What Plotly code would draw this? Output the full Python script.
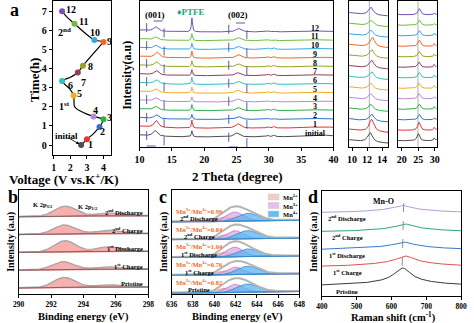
import numpy as np
import plotly.graph_objects as go

W, H = 474, 323
SERIF = "Liberation Serif"

# ---------------- data ----------------
# (a) charge/discharge profile: voltage (V) vs time (h)
curve_v = [2.65, 3.0, 3.4, 3.76, 4.0, 3.4, 3.0, 2.6, 2.35, 2.24, 2.22, 2.2, 1.95, 1.5, 2.0, 2.45,
           2.76, 3.2, 3.6, 3.9, 4.0, 3.45, 2.9, 2.25, 1.8, 1.5]
curve_t = [0.0, 0.3, 0.6, 0.95, 1.35, 1.5, 1.62, 1.78, 1.92, 2.04, 2.3, 2.6, 2.95, 3.35, 3.55, 3.8,
           4.15, 4.6, 5.0, 5.3, 5.4, 5.5, 5.85, 6.35, 6.7, 7.0]
point_names = ["initial", "1", "2", "3", "4", "5", "6", "7", "8", "9", "10", "11", "12"]
point_v = [2.65, 3.0, 3.76, 4.0, 3.4, 2.2, 1.5, 2.45, 2.76, 4.0, 3.45, 2.25, 1.5]
point_t = [0.0, 0.3, 0.95, 1.35, 1.5, 2.6, 3.35, 3.8, 4.15, 5.4, 5.5, 6.35, 7.0]

# (a) in-situ XRD: peak parameters of each pattern
xrd_colors = ["#4d4d4d", "#e8332e", "#2f73c9", "#2fae4e", "#b38ad8", "#f2ad1f", "#2cc0c0",
              "#8e3f62", "#98a31e", "#f5661e", "#34a8e2", "#6cbf3c", "#7651b8"]
p001_pos = [12.4, 12.6, 12.6, 12.5, 12.5, 12.5, 12.6, 12.6, 12.6, 12.7, 12.5, 12.5, 12.5]
p001_h = [5.5, 7.0, 4.0, 3.5, 3.5, 3.5, 4.0, 4.5, 4.5, 5.5, 3.5, 3.0, 4.5]
ptfe_h = [6.0, 8.0, 5.0, 6.0, 5.0, 6.0, 7.0, 6.0, 6.0, 7.0, 6.0, 7.0, 14.0]
p002_pos = [25.0, 25.2, 25.3, 25.3, 25.2, 25.2, 25.3, 25.2, 25.3, 25.3, 25.3, 25.3, 25.3]
p002_h = [4.0, 4.5, 3.0, 3.0, 3.0, 3.0, 3.0, 3.0, 3.0, 3.5, 3.0, 3.0, 3.5]
minor_h = [1.5, 1.5, 1.0, 1.5, 1.0, 1.5, 1.5, 1.5, 1.5, 1.5, 1.5, 1.0, 1.0]
hump_h = [2.0, 1.5, 1.0, 1.0, 1.0, 1.0, 1.0, 1.0, 1.0, 1.0, 1.0, 1.0, 1.0]

# (b) K 2p XPS
b_names = ["Pristine", "1<sup>st</sup> Charge", "1<sup>st</sup> Discharge",
           "2<sup>nd</sup> Charge", "2<sup>nd</sup> Discharge"]
k32_pos = [292.8, 292.7, 292.85, 292.8, 292.85]
k32_h = [10.0, 8.0, 11.0, 9.0, 10.0]
k12_h = [2.0, 2.0, 4.5, 3.0, 2.5]

# (c) Mn 2p XPS
c_names = b_names
mn_ratio = [0.82, 0.76, 1.04, 0.84, 0.99]     # Mn3+/Mn4+
mn2_h = [4.5, 4.0, 5.0, 4.5, 4.5]
mn4_h = [8.0, 8.0, 7.5, 8.0, 7.5]

# (d) Raman
d_names = b_names
d_colors = ["#3a3a3a", "#e05050", "#3a78c8", "#30a878", "#b89ad8"]
d_base = [10.0, 29.0, 46.0, 64.0, 83.0]
d_center = [632, 640, 635, 640, 632]
d_sharp = [13.0, 6.0, 4.0, 4.5, 4.0]
d_broad = [5.0, 5.0, 4.0, 3.5, 3.5]


# ---------------- helpers ----------------
def lor(x, c, h, w):
    return h / (1 + ((x - c) / w) ** 2)


def gau(x, c, h, s):
    return h * np.exp(-0.5 * ((x - c) / s) ** 2)


def sig(x, c, w):
    return 1 / (1 + np.exp(-(x - c) / w))


def xrd_curve(k, x):
    return (lor(x, p001_pos[k], p001_h[k], 0.38) + lor(x, 18.1, ptfe_h[k], 0.1)
            + lor(x, p002_pos[k], p002_h[k], 0.45) + lor(x, 29.8, minor_h[k], 0.2)
            + lor(x, 30.8, minor_h[k], 0.2) + lor(x, 38.0, hump_h[k], 2.5)
            + 2.0 * np.exp(-(x - 10) / 3))


def fx(p):
    return p / W


def fy(p):
    return 1 - p / H


fig = go.Figure()

# ---------------- (a) profile ----------------
fig.add_trace(go.Scatter(x=curve_v, y=curve_t, mode="lines", line=dict(color="black", width=1.2,
                         shape="spline", smoothing=0.6), xaxis="x", yaxis="y", hoverinfo="skip"))
fig.add_trace(go.Scatter(x=point_v, y=point_t, mode="markers",
                         marker=dict(color=xrd_colors, size=6), xaxis="x", yaxis="y"))

# ---------------- (a) XRD ----------------
th_main = np.linspace(10, 40, 1500)
th_in1 = np.linspace(9.6, 14.8, 400)
th_in2 = np.linspace(18.8, 30.6, 600)
for k in range(len(point_names)):
    c = xrd_colors[k]
    fig.add_trace(go.Scatter(x=th_main, y=10 + 8.75 * k + xrd_curve(k, th_main), mode="lines",
                             line=dict(color=c, width=1), xaxis="x2", yaxis="y2"))
    fig.add_trace(go.Scatter(x=th_in1, y=3 + 10.6 * k + 1.8 * xrd_curve(k, th_in1), mode="lines",
                             line=dict(color=c, width=1), xaxis="x3", yaxis="y3"))
    fig.add_trace(go.Scatter(x=th_in2, y=6 + 10.5 * k + 1.8 * xrd_curve(k, th_in2), mode="lines",
                             line=dict(color=c, width=1), xaxis="x4", yaxis="y4"))

# ---------------- (b) K 2p ----------------
be_b = np.linspace(290, 298, 500)
for k in range(5):
    base = 6 + 17.8 * k
    bg = base + 1.0 * sig(be_b, 293.0, 0.4)
    p1 = gau(be_b, k32_pos[k], k32_h[k], 0.65)
    p2 = gau(be_b, 295.6, k12_h[k], 0.7)
    for p in (p1, p2):
        fig.add_trace(go.Scatter(x=np.concatenate([be_b, be_b[::-1]]),
                                 y=np.concatenate([bg + p, bg[::-1]]), fill="toself",
                                 fillcolor="rgba(243,150,150,0.75)", mode="lines",
                                 line=dict(color="#e07a7a", width=0.6), xaxis="x5", yaxis="y5"))
    fig.add_trace(go.Scatter(x=be_b, y=bg + p1 + p2 + 0.4, mode="lines",
                             line=dict(color="#a8a8a8", width=1.2), xaxis="x5", yaxis="y5"))
    fig.add_trace(go.Scatter(x=be_b, y=bg, mode="lines", line=dict(color="#606060", width=0.8),
                             xaxis="x5", yaxis="y5"))

# ---------------- (c) Mn 2p ----------------
be_c = np.linspace(636, 648, 600)
for k in range(5):
    base = 1 + 17.8 * k
    bg = base + 1.5 * sig(be_c, 642.5, 0.8)
    m4 = gau(be_c, 643.1, mn4_h[k], 1.0)
    m3 = gau(be_c, 641.9, mn_ratio[k] * mn4_h[k] * 1.0 / 0.8, 0.8)
    m2 = gau(be_c, 640.9, mn2_h[k], 0.7)
    for p, fc, lc in ((m2, "rgba(240,200,184,0.8)", "#e08a80"),
                      (m3, "rgba(222,170,226,0.75)", "#b070c0"),
                      (m4, "rgba(90,180,240,0.75)", "#2a80c8")):
        fig.add_trace(go.Scatter(x=np.concatenate([be_c, be_c[::-1]]),
                                 y=np.concatenate([bg + p, bg[::-1]]), fill="toself",
                                 fillcolor=fc, mode="lines", line=dict(color=lc, width=0.7),
                                 xaxis="x6", yaxis="y6"))
    fig.add_trace(go.Scatter(x=be_c, y=bg + m2 + m3 + m4 + 0.5, mode="lines",
                             line=dict(color="#b5b5b5", width=2), xaxis="x6", yaxis="y6"))
    fig.add_trace(go.Scatter(x=be_c, y=bg, mode="lines", line=dict(color="#3090d0", width=0.9),
                             xaxis="x6", yaxis="y6"))

# ---------------- (d) Raman ----------------
rs = np.linspace(400, 800, 600)
for k in range(5):
    y = d_base[k] + lor(rs, d_center[k], d_sharp[k], 28) + lor(rs, d_center[k], d_broad[k], 110)
    fig.add_trace(go.Scatter(x=rs, y=y, mode="lines", line=dict(color=d_colors[k], width=1),
                             xaxis="x7", yaxis="y7"))

# ---------------- axes ----------------
tf = dict(family=SERIF, size=10, color="black", weight="bold")
tfs = dict(family=SERIF, size=7.5, color="black", weight="bold")


def xax(dom, rng, ticks, anchor, font):
    return dict(domain=[fx(dom[0]), fx(dom[1])], range=rng, tickvals=ticks, anchor=anchor,
                showline=True, linecolor="black", linewidth=1.3, mirror=True, ticks="outside",
                ticklen=3, tickwidth=1, tickcolor="black", showgrid=False, zeroline=False,
                tickfont=font)


def yax(dom, rng, anchor, ticks=None):
    d = dict(domain=[fy(dom[1]), fy(dom[0])], range=rng, anchor=anchor, showline=True,
             linecolor="black", linewidth=1.3, mirror=True, showgrid=False, zeroline=False)
    if ticks is None:
        d.update(showticklabels=False, ticks="")
    else:
        d.update(tickvals=ticks, ticks="outside", ticklen=3, tickcolor="black", tickfont=tf)
    return d


fig.update_layout(
    width=W, height=H, margin=dict(l=0, r=0, t=0, b=0), showlegend=False,
    plot_bgcolor="white", paper_bgcolor="white",
    xaxis=xax((48, 108), [0.94, 4.47], [1, 2, 3, 4], "y", tf),
    yaxis=yax((1, 155), [-0.52, 7.54], "x", list(range(8))),
    xaxis2=xax((137, 336), [10, 40], [10, 15, 20, 25, 30, 35, 40], "y2", tf),
    yaxis2=yax((1, 147), [0, 146], "x2"),
    xaxis3=xax((352, 392), [9.6, 14.8], [10, 12, 14], "y3", tf),
    yaxis3=yax((1, 147), [0, 146], "x3"),
    xaxis4=xax((402, 442), [18.8, 30.6], [20, 25, 30], "y4", tf),
    yaxis4=yax((1, 147), [0, 146], "x4"),
    xaxis5=xax((13, 146), [290, 298], [290, 292, 294, 296, 298], "y5", tfs),
    yaxis5=yax((190, 294), [0, 104], "x5"),
    xaxis6=xax((170, 301), [636, 648], [636, 638, 640, 642, 644, 646, 648], "y6", tfs),
    yaxis6=yax((190, 294), [0, 104], "x6"),
    xaxis7=xax((324, 467), [400, 800], [400, 500, 600, 700, 800], "y7", tfs),
    yaxis7=yax((191, 296), [0, 105], "x7"),
)

ann = []


def text_px(x, y, s, size, angle=0, color="black", xanchor="center"):
    ann.append(dict(x=fx(x), y=fy(y), xref="paper", yref="paper", text=s, showarrow=False,
                    textangle=angle, xanchor=xanchor, yanchor="middle",
                    font=dict(family=SERIF, size=size, color=color, weight="bold")))


def text_ax(ax, x, y, s, size, color="black", xanchor="center"):
    ann.append(dict(x=x, y=y, xref="x" + ax, yref="y" + ax, text=s, showarrow=False,
                    xanchor=xanchor, yanchor="middle",
                    font=dict(family=SERIF, size=size, color=color, weight="bold")))


# panel letters
text_px(9, 10, "a", 18)
text_px(7, 197, "b", 18)
text_px(161, 197, "c", 18)
text_px(315, 197, "d", 18)

# (a) titles and labels
text_px(30, 80, "Time(h)", 13, angle=-90)
text_px(60, 179, "Voltage (V vs.K<sup>+</sup>/K)", 13)
text_px(124, 75, "Intensity(a.u)", 12, angle=-90)
text_px(238, 176, "2 Theta (degree)", 13)

num_pos = [(3.24, 0.05), (3.96, 0.73), (4.35, 1.45), (3.5, 1.83), (2.57, 2.7), (1.98, 3.14),
           (2.82, 3.26), (3.22, 4.1), (4.35, 5.4), (3.5, 5.9), (2.78, 6.46), (2.04, 7.1)]
for name, (vx, ty) in zip(point_names[1:], num_pos):
    text_ax("", vx, ty, name, 10)
text_ax("", 1.65, 2.04, "1<sup>st</sup>", 10)
text_ax("", 1.65, 5.93, "2<sup>nd</sup>", 10)
ann.append(dict(x=2.55, y=0.05, xref="x", yref="y", ax=1.75, ay=0.44, axref="x", ayref="y",
                text="", showarrow=True, arrowhead=2, arrowsize=0.8, arrowwidth=0.8,
                arrowcolor="black"))
text_ax("", 1.75, 0.48, "initial", 9)

text_ax("2", 12.4, 132, "(001)", 9)
text_ax("2", 25.2, 132, "(002)", 9)
text_ax("2", 18.0, 135, "♦PTFE", 9, color="#1fa67a")
for k, name in enumerate(point_names):
    text_ax("2", 37.2, 10 + 8.75 * k + 4.0, name, 8)

# (b) labels
text_px(5, 242, "Intensity (a.u)", 10, angle=-90)
text_px(80, 317, "Binding energy (eV)", 10.5)
text_ax("5", 291.5, 89, "K 2p<sub>3/2</sub>", 6.5)
text_ax("5", 294.3, 87, "K 2p<sub>1/2</sub>", 6.5)
for k, name in enumerate(b_names):
    text_ax("5", 297.8, 6 + 17.8 * k + 4.5, name, 6.5, xanchor="right")

# (c) labels
text_px(162, 242, "Intensity (a.u)", 10, angle=-90)
text_px(238, 317, "Binding energy (eV)", 10.5)
for k, name in enumerate(c_names):
    base = 1 + 17.8 * k
    text_ax("6", 638.6, base + 11, "Mn<sup>3+</sup>/Mn<sup>4+</sup>=%.2f" % mn_ratio[k], 6.5,
            color="#f06a28")
    text_ax("6", 638.6, base + 3.5, name, 6.5)

legend_items = [("Mn<sup>2+</sup>", "#f0cfc2"), ("Mn<sup>3+</sup>", "#e6bfe8"),
                ("Mn<sup>4+</sup>", "#6cbcf0")]
shapes = []
for i, (lab, col) in enumerate(legend_items):
    y0 = 194 + 8.5 * i
    shapes.append(dict(type="rect", xref="paper", yref="paper", x0=fx(269), x1=fx(280),
                       y0=fy(y0 + 6), y1=fy(y0), fillcolor=col, line=dict(color="#c8c8c8", width=0.5)))
    text_px(282, y0 + 3, lab, 6.5, xanchor="left")

# (d) labels
text_px(316, 242, "Intensity (a.u)", 10, angle=-90)
text_px(398, 317, "Raman shift (cm<sup>-1</sup>)", 10.5)
text_ax("7", 576, 95, "Mn-O", 8)
for k, name in enumerate(d_names):
    text_ax("7", 473, d_base[k] - 5, name, 6.5)

# dashed guide boxes and lines
shapes.append(dict(type="rect", xref="x2", yref="y2", x0=11.1, x1=13.8, y0=1, y1=126,
                   line=dict(color="#5a5ab0", width=1, dash="dash")))
shapes.append(dict(type="rect", xref="x2", yref="y2", x0=23.8, x1=26.6, y0=0, y1=124,
                   line=dict(color="#5a5ab0", width=1, dash="dash")))
shapes.append(dict(type="line", xref="x3", yref="y3", x0=12.3, x1=12.3, y0=0, y1=146,
                   line=dict(color="#b0b0b0", width=1), layer="below"))
shapes.append(dict(type="line", xref="x4", yref="y4", x0=24.9, x1=24.9, y0=0, y1=146,
                   line=dict(color="#b0b0b0", width=1), layer="below"))
shapes.append(dict(type="line", xref="x7", yref="y7", x0=635, x1=630, y0=93, y1=21,
                   line=dict(color="#909090", width=1, dash="dash")))

fig.update_layout(annotations=ann, shapes=shapes)
fig.write_html("out.html")
